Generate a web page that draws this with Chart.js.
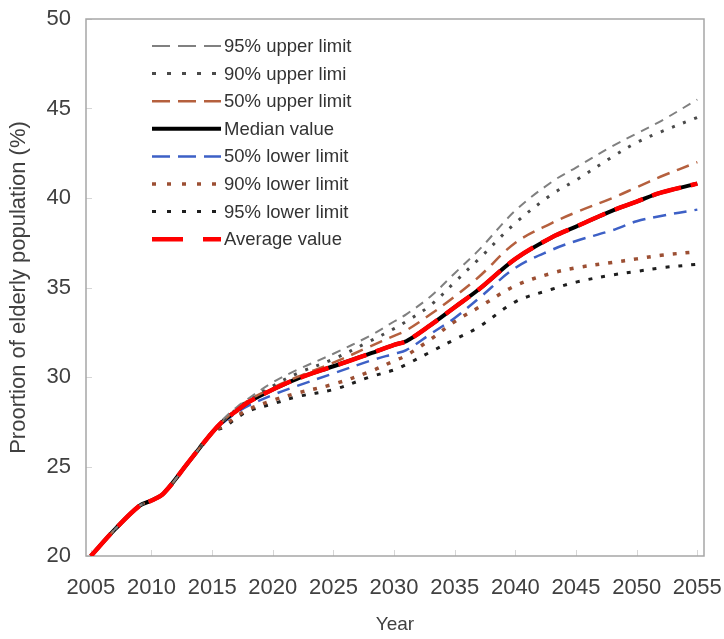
<!DOCTYPE html>
<html>
<head>
<meta charset="utf-8">
<title>Elderly population projection</title>
<script src="https://cdn.jsdelivr.net/npm/chart.js@4.4.1/dist/chart.umd.min.js"></script>
<style>
  html, body { margin: 0; padding: 0; background: #fff; }
  #wrap { width: 724px; height: 639px; }
</style>
</head>
<body>
<div id="wrap"><canvas id="chart"></canvas></div>
<script>
// Projected share of elderly population (%), by year
const years = [2005, 2007, 2009, 2010, 2011, 2013, 2015, 2016, 2017, 2018, 2020, 2022, 2025,
               2028, 2030, 2031, 2033, 2035, 2037, 2040, 2043, 2045, 2048, 2050, 2052, 2055];

const upper95 = [20.0, 21.5, 22.8, 23.1, 23.5, 25.2, 26.9, 27.7, 28.3, 28.8, 29.7, 30.4, 31.3,
                 32.3, 33.1, 33.5, 34.5, 35.8, 37.1, 39.3, 40.9, 41.7, 42.9, 43.6, 44.3, 45.5];
const upper90 = [20.0, 21.5, 22.8, 23.1, 23.5, 25.2, 26.9, 27.6, 28.2, 28.7, 29.5, 30.2, 31.0,
                 32.0, 32.7, 33.1, 34.0, 35.3, 36.6, 38.6, 40.2, 41.0, 42.3, 43.1, 43.7, 44.5];
const upper50 = [20.0, 21.5, 22.8, 23.1, 23.5, 25.2, 26.9, 27.6, 28.2, 28.7, 29.4, 30.0, 30.8,
                 31.7, 32.3, 32.6, 33.5, 34.5, 35.6, 37.5, 38.6, 39.2, 40.0, 40.6, 41.2, 42.0];
const median  = [20.0, 21.5, 22.8, 23.1, 23.5, 25.2, 26.9, 27.6, 28.1, 28.6, 29.3, 29.9, 30.6,
                 31.3, 31.8, 32.0, 32.9, 33.9, 34.9, 36.6, 37.8, 38.4, 39.3, 39.8, 40.3, 40.8];
const lower50 = [20.0, 21.5, 22.8, 23.1, 23.5, 25.2, 26.9, 27.5, 28.0, 28.4, 29.0, 29.5, 30.2,
                 30.9, 31.3, 31.5, 32.4, 33.3, 34.4, 36.1, 37.1, 37.6, 38.2, 38.7, 39.0, 39.35];
const lower90 = [20.0, 21.5, 22.8, 23.1, 23.5, 25.2, 26.9, 27.3, 27.8, 28.2, 28.7, 29.1, 29.6,
                 30.3, 30.9, 31.2, 32.1, 33.1, 33.9, 35.1, 35.8, 36.1, 36.4, 36.6, 36.8, 37.0];
const lower95 = [20.0, 21.5, 22.8, 23.1, 23.5, 25.2, 26.9, 27.2, 27.7, 28.1, 28.5, 28.9, 29.3,
                 30.0, 30.4, 30.7, 31.4, 32.1, 32.8, 34.2, 34.9, 35.3, 35.7, 35.9, 36.1, 36.3];
const average = [20.0, 21.5, 22.8, 23.1, 23.5, 25.2, 26.9, 27.6, 28.1, 28.6, 29.3, 29.9, 30.6,
                 31.3, 31.8, 32.0, 32.9, 33.9, 34.9, 36.6, 37.8, 38.4, 39.3, 39.8, 40.3, 40.8];

const xTicks = [2005, 2010, 2015, 2020, 2025, 2030, 2035, 2040, 2045, 2050, 2055];
const yTicks = [20, 25, 30, 35, 40, 45, 50];

const FONT = 'Liberation Sans, Arial, Helvetica, sans-serif';
const TEXT = '#404040';

function toPoints(values) {
    return values.map((v, i) => ({ x: years[i], y: v }));
}

function series(label, values, color, width, dash, legendDash, order) {
    return {
        label: label,
        data: toPoints(values),
        borderColor: color,
        borderWidth: width,
        borderDash: dash,
        legendDash: legendDash,
        borderCapStyle: 'butt',
        pointRadius: 0,
        tension: 0.35,
        fill: false,
        order: order
    };
}

// Frame, faint inner ticks and the in-plot legend
const framePlugin = {
    id: 'frame',
    beforeDatasetsDraw(chart) {
        const { ctx, chartArea: a, scales } = chart;
        ctx.save();
        ctx.strokeStyle = '#d6d6d6';
        ctx.lineWidth = 1;
        ctx.beginPath();
        scales.y.ticks.forEach(t => {
            const py = Math.round(scales.y.getPixelForValue(t.value)) + 0.5;
            ctx.moveTo(a.left, py);
            ctx.lineTo(a.left + 6, py);
        });
        scales.x.ticks.forEach(t => {
            const px = Math.round(scales.x.getPixelForValue(t.value)) + 0.5;
            ctx.moveTo(px, a.bottom);
            ctx.lineTo(px, a.bottom - 6);
        });
        ctx.stroke();
        ctx.strokeStyle = '#a6a6a6';
        ctx.lineWidth = 1.5;
        ctx.strokeRect(a.left, a.top, a.right - a.left, a.bottom - a.top);
        ctx.restore();
    },
    afterDatasetsDraw(chart) {
        const ctx = chart.ctx;
        const x0 = 152, x1 = 221, textX = 224;
        ctx.save();
        ctx.font = '18.5px ' + FONT;
        ctx.textBaseline = 'middle';
        chart.data.datasets.forEach((ds, i) => {
            const y = 46 + i * 27.6;
            ctx.strokeStyle = ds.borderColor;
            ctx.lineWidth = ds.borderWidth;
            ctx.lineCap = 'butt';
            ctx.setLineDash(ds.legendDash);
            ctx.beginPath();
            ctx.moveTo(x0, y);
            ctx.lineTo(x1, y);
            ctx.stroke();
            ctx.setLineDash([]);
            ctx.fillStyle = '#333';
            ctx.fillText(ds.label, textX, y + 1);
        });
        ctx.restore();
    }
};

const datasets = [
    series('95% upper limit', upper95, '#808080', 2,   [9, 7],  [18, 8],  1),
    series('90% upper limi',  upper90, '#4a4a4a', 3,   [3, 9],  [4, 11],  1),
    series('50% upper limit', upper50, '#b5603e', 2.5, [13, 8], [18, 8],  1),
    series('Median value',    median,  '#000000', 4,   [],      [],       1),
    series('50% lower limit', lower50, '#3d60c6', 2.5, [13, 8], [18, 8],  1),
    series('90% lower limit', lower90, '#9c4f33', 3.5, [4, 9],  [4, 11],  1),
    series('95% lower limit', lower95, '#1e1e1e', 3,   [4, 9],  [4, 11],  1),
    series('Average value',   average, '#ff0000', 4.5, [30, 10], [31, 20], 0)
];

new Chart(document.getElementById('chart'), {
    type: 'line',
    data: { datasets: datasets },
    options: {
        responsive: true,
        maintainAspectRatio: false,
        animation: false,
        layout: { padding: { top: 19, right: 20, left: 0, bottom: 0 } },
        plugins: {
            legend: { display: false },
            tooltip: { enabled: false }
        },
        scales: {
            x: {
                type: 'linear',
                min: 2004.6,
                max: 2055.55,
                afterBuildTicks: s => { s.ticks = xTicks.map(v => ({ value: v })); },
                afterFit: s => { s.height = 83; s.paddingLeft = 0; s.paddingRight = 0; },
                grid: { display: false, drawTicks: false },
                border: { display: false },
                ticks: {
                    font: { family: FONT, size: 22 },
                    color: TEXT,
                    padding: 19,
                    maxRotation: 0,
                    autoSkip: false,
                    callback: v => String(v)
                },
                title: {
                    display: true,
                    text: 'Year',
                    font: { family: FONT, size: 19 },
                    color: TEXT,
                    padding: { top: 0, bottom: 3 }
                }
            },
            y: {
                min: 20,
                max: 50,
                afterBuildTicks: s => { s.ticks = yTicks.map(v => ({ value: v })); },
                afterFit: s => { s.width = 86; s.paddingTop = 0; s.paddingBottom = 0; },
                grid: { display: false, drawTicks: false },
                border: { display: false },
                ticks: {
                    font: { family: FONT, size: 22 },
                    color: TEXT,
                    padding: 15
                },
                title: {
                    display: true,
                    text: 'Proortion of elderly population (%)',
                    font: { family: FONT, size: 22 },
                    color: TEXT,
                    padding: { top: 6, bottom: 0 }
                }
            }
        }
    },
    plugins: [framePlugin]
});
</script>
</body>
</html>
